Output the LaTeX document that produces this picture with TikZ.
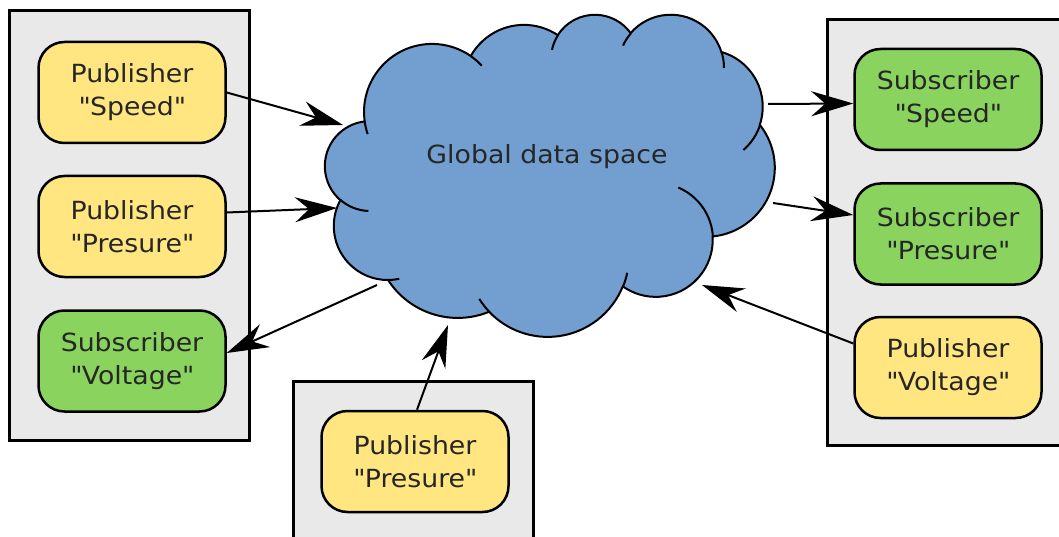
\documentclass[tikz,border=0pt]{standalone}
\usepackage{fontspec}
\setmainfont{DejaVu Sans}[FakeStretch=1.07]
\usetikzlibrary{arrows.meta}
\definecolor{pubfill}{RGB}{255,230,128}
\definecolor{subfill}{RGB}{137,211,94}
\definecolor{cloudfill}{RGB}{114,159,207}
\definecolor{panelfill}{RGB}{233,233,233}
\newcommand{\qt}[1]{\textquotedbl#1\textquotedbl}
\begin{document}
\begin{tikzpicture}[x=1pt, y=1pt, >={Stealth[length=42pt,width=25pt,inset=14pt]},
    box/.style={draw, line width=2.5pt, rounded corners=26pt, minimum width=187pt,
        minimum height=101pt, align=center, text=black!85,
        font=\fontsize{25}{33}\selectfont},
    pub/.style={box, fill=pubfill},
    sub/.style={box, fill=subfill},
    panel/.style={draw, line width=3pt, fill=panelfill},
    link/.style={->, line width=2pt}]
    \useasboundingbox (0,0) rectangle (1059,536);
    \draw[panel] (9,96) rectangle (249,525);
    \draw[panel] (827,91) rectangle (1075,516);
    \draw[panel] (293,-10) rectangle (533,155);
    \node[pub] (pubspeed) at (132,443.5) {Publisher\\\qt{Speed}};
    \node[pub] (pubpres) at (132,309.5) {Publisher\\\qt{Presure}};
    \node[sub] (subvolt) at (132,175) {Subscriber\\\qt{Voltage}};
    \node[sub] (subspeed) at (948,436.5) {Subscriber\\\qt{Speed}};
    \node[sub] (subpres) at (948,302) {Subscriber\\\qt{Presure}};
    \node[pub] (pubvolt) at (948,168.5) {Publisher\\\qt{Voltage}};
    \node[pub] (pubpresb) at (415,74.5) {Publisher\\\qt{Presure}};
    \draw[line width=2pt, fill=cloudfill] (364.7,414.6)
        arc[start angle=188, end angle=55.3, radius=68pt]
        arc[start angle=150.7, end angle=56.3, radius=61pt]
        arc[start angle=147.5, end angle=35.7, radius=44pt]
        arc[start angle=139.2, end angle=17.3, radius=53pt]
        arc[start angle=74.1, end angle=-18.5, radius=57pt]
        arc[start angle=38.5, end angle=-84.3, radius=69pt]
        arc[start angle=3.4, end angle=-125.3, radius=57pt]
        arc[start angle=-22.1, end angle=-136.4, radius=81pt]
        arc[start angle=-67.8, end angle=-147.1, radius=83pt]
        arc[start angle=-89.7, end angle=-208.6, radius=54pt]
        arc[start angle=229.1, end angle=96.8, radius=45pt] -- cycle;
    \draw[line width=2pt] (432,424) ++(188:68pt) arc[start angle=188, end angle=199, radius=68pt];
    \draw[line width=2pt] (432,424) ++(55.3:68pt) arc[start angle=55.3, end angle=43, radius=68pt];
    \draw[line width=2pt] (595,477) ++(147.5:44pt) arc[start angle=147.5, end angle=168, radius=44pt];
    \draw[line width=2pt] (671,468) ++(139.2:53pt) arc[start angle=139.2, end angle=155, radius=53pt];
    \draw[line width=2pt] (671,468) ++(17.3:53pt) arc[start angle=17.3, end angle=0, radius=53pt];
    \draw[line width=2pt] (706,429) ++(-18.5:57pt) arc[start angle=-18.5, end angle=-49, radius=57pt];
    \draw[line width=2pt] (656,296) ++(3.4:57pt) arc[start angle=3.4, end angle=67, radius=57pt];
    \draw[line width=2pt] (548,280) ++(-22.1:81pt) arc[start angle=-22.1, end angle=-12, radius=81pt];
    \draw[line width=2pt] (548,280) ++(223.6:81pt) arc[start angle=223.6, end angle=212, radius=81pt];
    \draw[line width=2pt] (388,310) ++(-89.7:54pt) arc[start angle=-89.7, end angle=-78, radius=54pt];
    \draw[line width=2pt] (370,370) ++(229.1:45pt) arc[start angle=229.1, end angle=268, radius=45pt];
    \node[text=black!85, font=\fontsize{25}{28}\selectfont] (space) at (547,379) {Global data space};
    \coordinate (inspeed) at (343,411);
    \coordinate (inpres) at (337,328);
    \coordinate (outvolt) at (377,251);
    \coordinate (inpresb) at (448,211);
    \coordinate (outspeed) at (768,432);
    \coordinate (outpres) at (773,333);
    \coordinate (involt) at (702,251);
    \draw[link] (pubspeed.east) -- (inspeed);
    \draw[link] ([yshift=14pt]pubpres.east) -- (inpres);
    \draw[link] (outvolt) -- ([yshift=8pt]subvolt.east);
    \draw[link] ([xshift=2pt]pubpresb.north) -- (inpresb);
    \draw[link] (outspeed) -- ([yshift=-4pt]subspeed.west);
    \draw[link] (outpres) -- ([yshift=19pt]subpres.west);
    \draw[link] ([yshift=24pt]pubvolt.west) -- (involt);
\end{tikzpicture}
\end{document}
